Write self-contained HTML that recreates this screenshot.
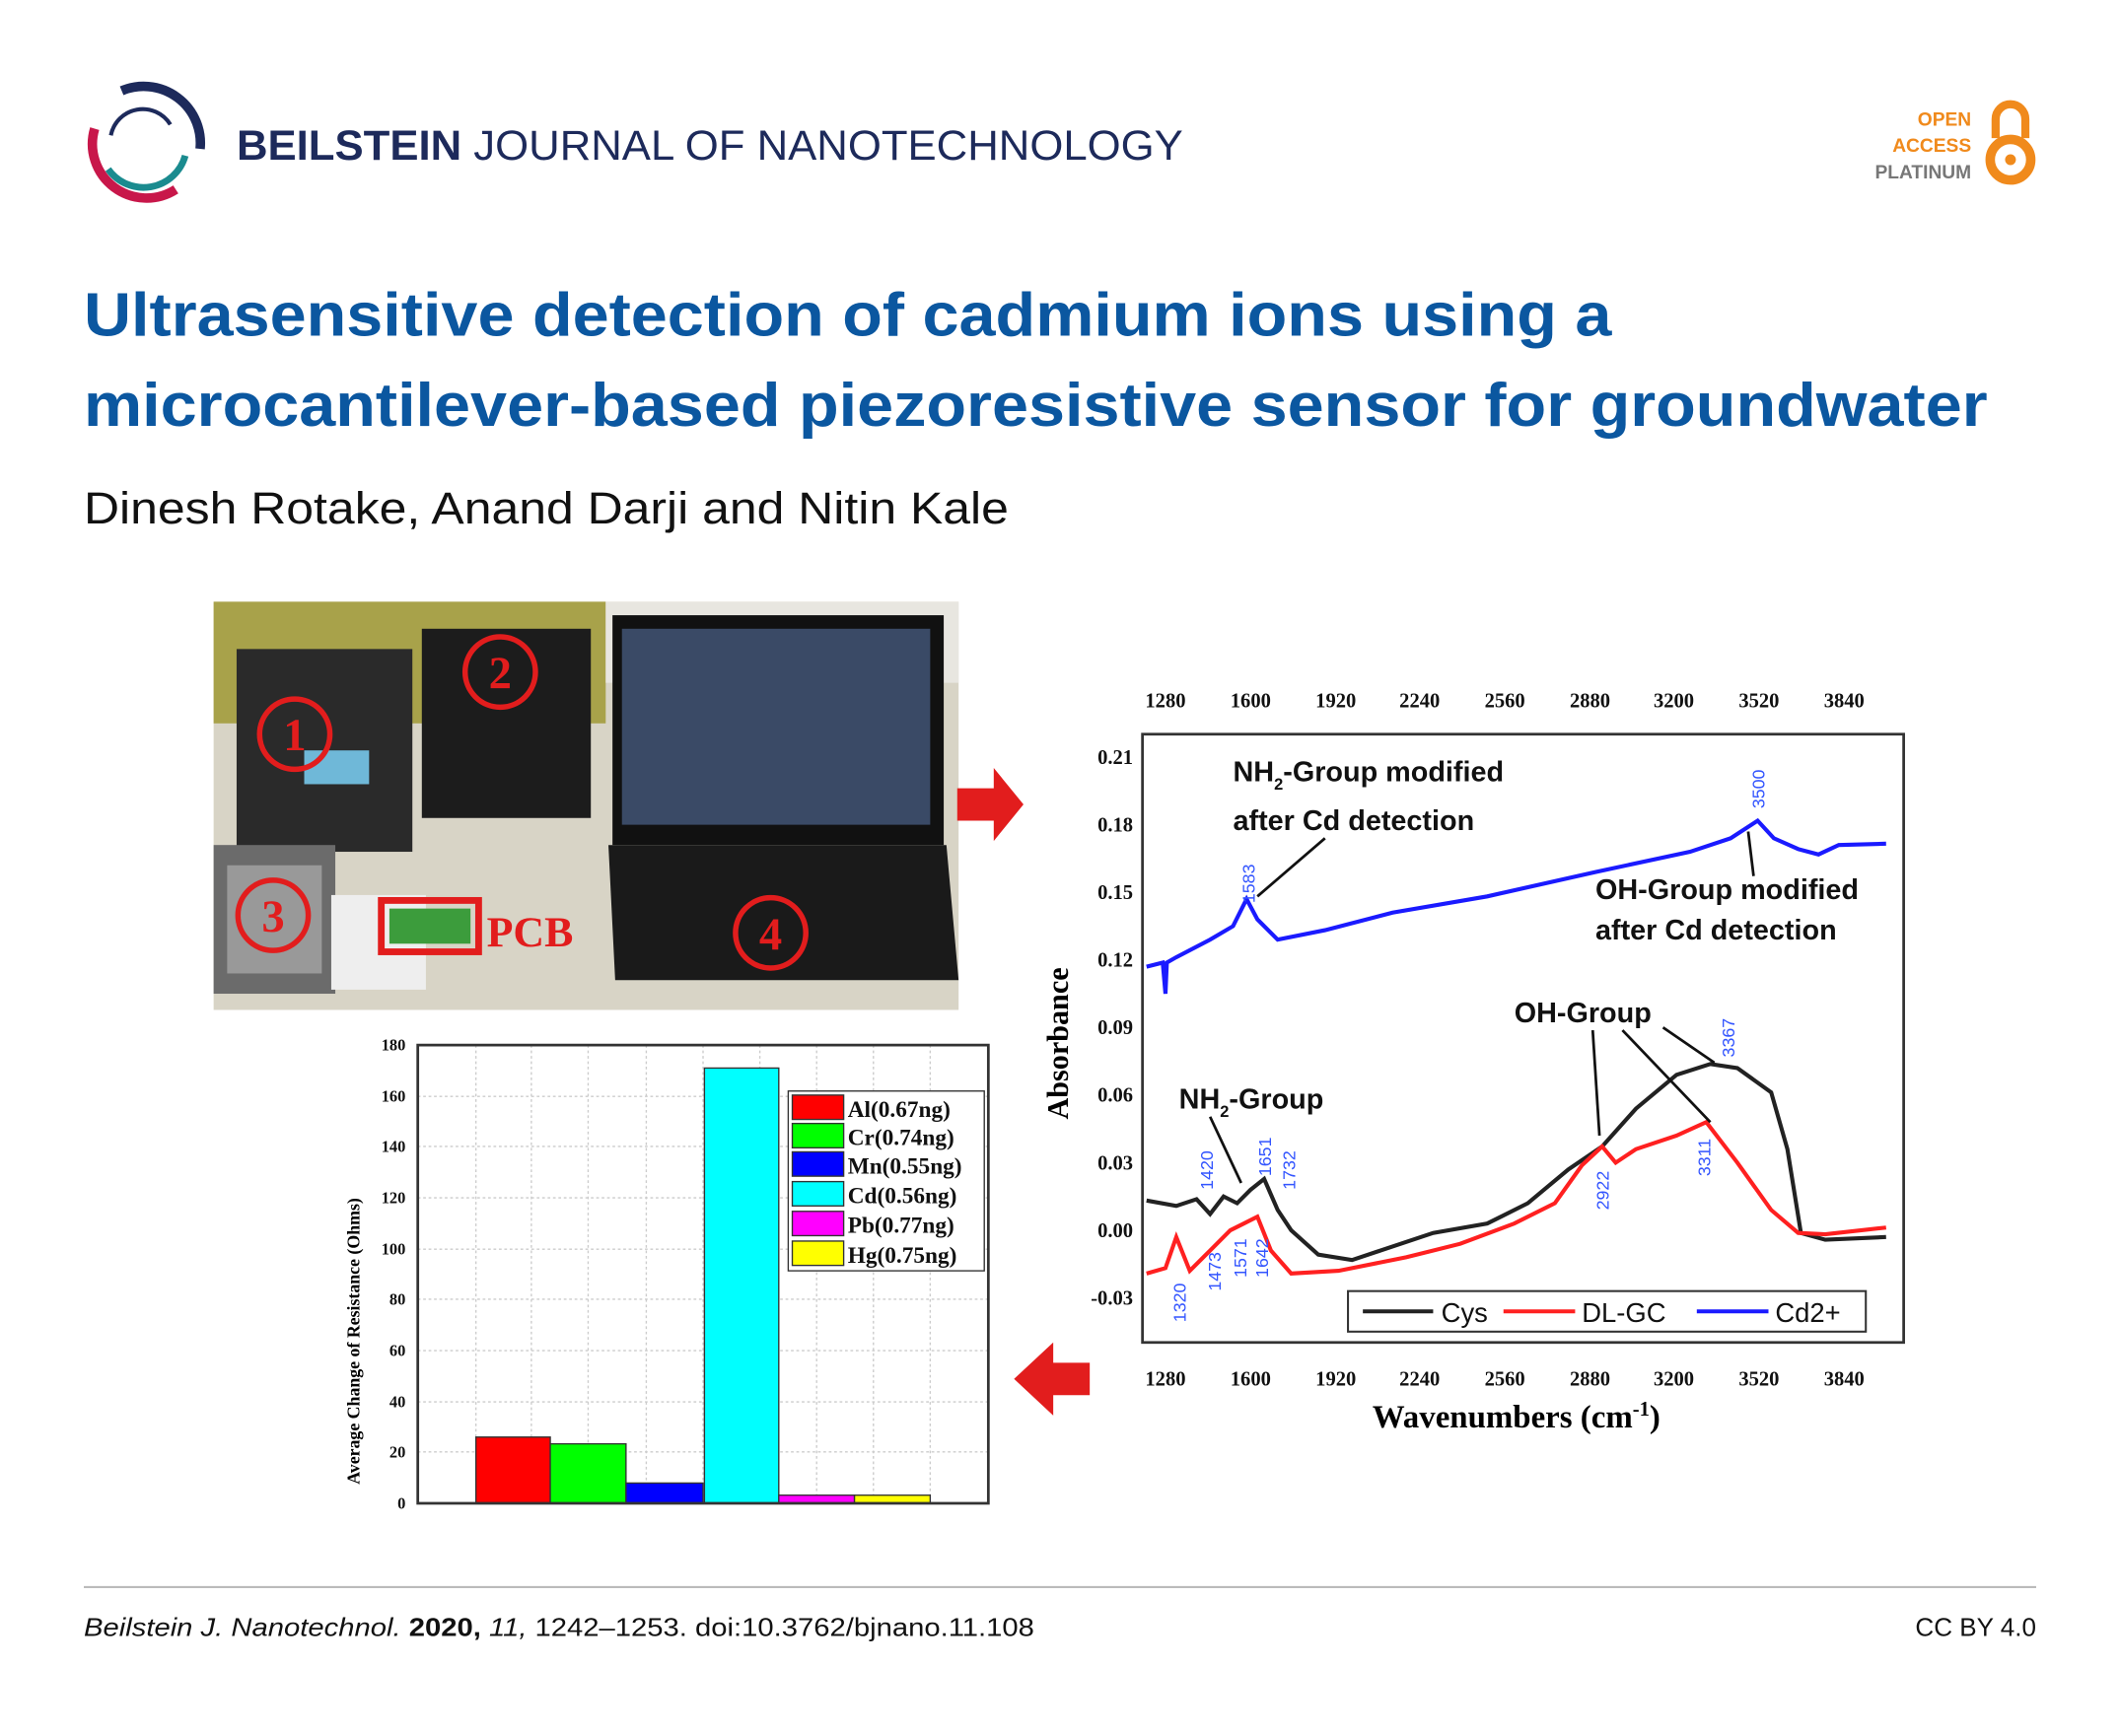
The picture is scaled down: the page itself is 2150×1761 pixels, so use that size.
<!DOCTYPE html>
<html><head><meta charset="utf-8"><style>
html,body{margin:0;padding:0;background:#fff;}
svg{display:block;}
text{font-family:"Liberation Sans",sans-serif;}
.ser,.ser text{font-family:"Liberation Serif",serif;}
</style></head><body>
<svg width="2150" height="1761" viewBox="0 0 1568 1284" xmlns="http://www.w3.org/2000/svg">
<rect width="1568" height="1284" fill="#fff"/>
<!-- logo -->
<path d="M70,95 A40,40 0 0,0 130,140" fill="none" stroke="#c8174a" stroke-width="7"/>
<path d="M90,67 A42,42 0 0,1 148,110" fill="none" stroke="#1d2a5b" stroke-width="7"/>
<path d="M80,125 A32,32 0 0,0 137,115" fill="none" stroke="#1a8b8f" stroke-width="5"/>
<path d="M82,100 A24,24 0 0,1 126,92" fill="none" stroke="#1d2a5b" stroke-width="3"/>
<text x="175" y="118" font-size="31" fill="#1d2a5b" textLength="700" lengthAdjust="spacingAndGlyphs"><tspan font-weight="bold">BEILSTEIN</tspan> JOURNAL OF NANOTECHNOLOGY</text>
<!-- open access -->
<text x="1458" y="93" font-size="14" font-weight="bold" fill="#f08a1c" text-anchor="end">OPEN</text>
<text x="1458" y="112" font-size="14" font-weight="bold" fill="#f08a1c" text-anchor="end">ACCESS</text>
<text x="1458" y="132" font-size="14" font-weight="bold" fill="#777" text-anchor="end">PLATINUM</text>
<path d="M1476,102 V88 A11,11 0 0,1 1498,88 V102" fill="none" stroke="#f08a1c" stroke-width="6"/>
<circle cx="1487" cy="118" r="15" fill="none" stroke="#f08a1c" stroke-width="7"/>
<circle cx="1487" cy="118" r="4" fill="#f08a1c"/>
<!-- title -->
<text x="62" y="248" font-size="45" font-weight="bold" fill="#0b57a0" textLength="1130" lengthAdjust="spacingAndGlyphs">Ultrasensitive detection of cadmium ions using a</text>
<text x="62" y="315" font-size="45" font-weight="bold" fill="#0b57a0" textLength="1408" lengthAdjust="spacingAndGlyphs">microcantilever-based piezoresistive sensor for groundwater</text>
<text x="62" y="387" font-size="33" fill="#111" textLength="684" lengthAdjust="spacingAndGlyphs">Dinesh Rotake, Anand Darji and Nitin Kale</text>
<!-- photo -->
<rect x="158" y="445" width="551" height="302" fill="#d8d4c6"/>
<rect x="158" y="445" width="290" height="90" fill="#a8a24a"/>
<rect x="448" y="445" width="261" height="60" fill="#e8e6e0"/>
<rect x="175" y="480" width="130" height="150" fill="#2a2a2a"/>
<rect x="225" y="555" width="48" height="25" fill="#6fb8d8"/>
<rect x="312" y="465" width="125" height="140" fill="#1c1c1c"/>
<rect x="453" y="455" width="245" height="170" fill="#111"/>
<rect x="460" y="465" width="228" height="145" fill="#3a4a66"/>
<polygon points="450,625 700,625 709,725 455,725" fill="#1a1a1a"/>
<rect x="158" y="625" width="90" height="110" fill="#6b6b6b"/>
<rect x="168" y="640" width="70" height="80" fill="#999"/>
<rect x="245" y="662" width="70" height="70" fill="#eee"/>
<rect x="282" y="666" width="72" height="38" fill="none" stroke="#e21d1d" stroke-width="5"/>
<rect x="288" y="672" width="60" height="26" fill="#3c9c3c"/>
<text x="360" y="700" font-size="32" font-weight="bold" fill="#e21d1d" class="ser">PCB</text>
<g fill="none" stroke="#e21d1d" stroke-width="4">
<circle cx="218" cy="543" r="26"/><circle cx="370" cy="497" r="26"/><circle cx="202" cy="677" r="26"/><circle cx="570" cy="690" r="26"/></g>
<g font-size="34" font-weight="bold" fill="#e21d1d" text-anchor="middle" class="ser">
<text x="218" y="555">1</text><text x="370" y="509">2</text><text x="202" y="689">3</text><text x="570" y="702">4</text></g>
<!-- arrows -->
<polygon points="708,583 735,583 735,568 757,595 735,622 735,607 708,607" fill="#e21d1d"/>
<polygon points="806,1008 779,1008 779,993 750,1020 779,1047 779,1032 806,1032" fill="#e21d1d"/>
<!-- right chart -->
<rect x="845" y="543" width="563" height="450" fill="none" stroke="#333" stroke-width="2"/>
<g font-size="15" font-weight="bold" class="ser" text-anchor="middle" fill="#111">
<text x="862" y="523">1280</text><text x="925" y="523">1600</text><text x="988" y="523">1920</text><text x="1050" y="523">2240</text><text x="1113" y="523">2560</text><text x="1176" y="523">2880</text><text x="1238" y="523">3200</text><text x="1301" y="523">3520</text><text x="1364" y="523">3840</text>
<text x="862" y="1025">1280</text><text x="925" y="1025">1600</text><text x="988" y="1025">1920</text><text x="1050" y="1025">2240</text><text x="1113" y="1025">2560</text><text x="1176" y="1025">2880</text><text x="1238" y="1025">3200</text><text x="1301" y="1025">3520</text><text x="1364" y="1025">3840</text>
</g>
<g font-size="15" font-weight="bold" class="ser" text-anchor="end" fill="#111">
<text x="838" y="565">0.21</text><text x="838" y="615">0.18</text><text x="838" y="665">0.15</text><text x="838" y="715">0.12</text><text x="838" y="765">0.09</text><text x="838" y="815">0.06</text><text x="838" y="865">0.03</text><text x="838" y="915">0.00</text><text x="838" y="965">-0.03</text>
</g>
<text class="ser" font-size="22" font-weight="bold" transform="translate(790,828) rotate(-90)">Absorbance</text>
<text class="ser" x="1015" y="1056" font-size="24" font-weight="bold">Wavenumbers (cm<tspan dy="-9" font-size="15">-1</tspan><tspan dy="9">)</tspan></text>
<polyline fill="none" stroke="#1a1aff" stroke-width="3" points="848,715 860,712 862,735 863,712 870,708 895,695 912,685 922,665 930,680 945,695 980,688 1030,675 1100,663 1180,645 1250,630 1280,620 1300,607 1312,620 1330,628 1345,632 1360,625 1395,624"/>
<polyline fill="none" stroke="#222" stroke-width="3" points="848,888 870,892 885,887 895,898 905,885 915,890 925,880 935,872 945,895 955,910 975,928 1000,932 1030,922 1060,912 1100,905 1130,890 1160,865 1185,848 1210,820 1240,795 1265,787 1285,790 1310,808 1322,850 1332,912 1350,917 1395,915"/>
<polyline fill="none" stroke="#ff2020" stroke-width="3" points="848,942 862,938 870,915 880,940 895,925 910,910 920,905 930,900 940,925 955,942 990,940 1040,930 1080,920 1120,905 1150,890 1170,862 1185,848 1195,860 1210,850 1240,840 1262,830 1285,860 1310,895 1330,912 1350,913 1395,908"/>
<g font-size="21" font-weight="bold" fill="#111">
<text x="912" y="578">NH<tspan dy="6" font-size="12">2</tspan><tspan dy="-6">-Group modified</tspan></text>
<text x="912" y="614">after Cd detection</text>
<text x="1180" y="665">OH-Group modified</text>
<text x="1180" y="695">after Cd detection</text>
<text x="1120" y="756">OH-Group</text>
<text x="872" y="820">NH<tspan dy="6" font-size="12">2</tspan><tspan dy="-6">-Group</tspan></text>
</g>
<g stroke="#111" stroke-width="2" fill="none">
<line x1="980" y1="620" x2="930" y2="663"/><line x1="1297" y1="648" x2="1293" y2="615"/>
<line x1="1178" y1="762" x2="1183" y2="840"/><line x1="1200" y1="762" x2="1265" y2="830"/><line x1="1230" y1="760" x2="1268" y2="786"/>
<line x1="895" y1="826" x2="918" y2="875"/>
</g>
<g font-size="13" fill="#3355ff">
<text transform="translate(928,668) rotate(-90)">1583</text>
<text transform="translate(1305,598) rotate(-90)">3500</text>
<text transform="translate(1283,782) rotate(-90)">3367</text>
<text transform="translate(1265,870) rotate(-90)">3311</text>
<text transform="translate(1190,895) rotate(-90)">2922</text>
<text transform="translate(897,880) rotate(-90)">1420</text>
<text transform="translate(940,870) rotate(-90)">1651</text>
<text transform="translate(958,880) rotate(-90)">1732</text>
<text transform="translate(877,978) rotate(-90)">1320</text>
<text transform="translate(903,955) rotate(-90)">1473</text>
<text transform="translate(922,945) rotate(-90)">1571</text>
<text transform="translate(938,945) rotate(-90)">1642</text>
</g>
<rect x="997" y="955" width="383" height="30" fill="#fff" stroke="#333" stroke-width="1.5"/>
<line x1="1008" y1="970" x2="1060" y2="970" stroke="#222" stroke-width="3"/>
<text x="1066" y="978" font-size="20" fill="#111">Cys</text>
<line x1="1112" y1="970" x2="1165" y2="970" stroke="#ff2020" stroke-width="3"/>
<text x="1170" y="978" font-size="20" fill="#111">DL-GC</text>
<line x1="1255" y1="970" x2="1308" y2="970" stroke="#1a1aff" stroke-width="3"/>
<text x="1313" y="978" font-size="20" fill="#111">Cd2+</text>
<!-- bar chart -->
<g stroke="#ccc" stroke-width="1" stroke-dasharray="2,2">
<line x1="309" y1="1074" x2="731" y2="1074"/><line x1="309" y1="1037" x2="731" y2="1037"/><line x1="309" y1="999" x2="731" y2="999"/><line x1="309" y1="961" x2="731" y2="961"/><line x1="309" y1="924" x2="731" y2="924"/><line x1="309" y1="886" x2="731" y2="886"/><line x1="309" y1="848" x2="731" y2="848"/><line x1="309" y1="811" x2="731" y2="811"/>
<line x1="352" y1="773" x2="352" y2="1112"/><line x1="393" y1="773" x2="393" y2="1112"/><line x1="435" y1="773" x2="435" y2="1112"/><line x1="478" y1="773" x2="478" y2="1112"/><line x1="520" y1="773" x2="520" y2="1112"/><line x1="562" y1="773" x2="562" y2="1112"/><line x1="604" y1="773" x2="604" y2="1112"/><line x1="646" y1="773" x2="646" y2="1112"/><line x1="688" y1="773" x2="688" y2="1112"/>
</g>
<g stroke="#333" stroke-width="1">
<rect x="352" y="1063" width="55" height="49" fill="#ff0000"/>
<rect x="407" y="1068" width="56" height="44" fill="#00ff00"/>
<rect x="463" y="1097" width="57" height="15" fill="#0000ff"/>
<rect x="521" y="790" width="55" height="322" fill="#00ffff"/>
<rect x="576" y="1106" width="56" height="6" fill="#ff00ff"/>
<rect x="632" y="1106" width="56" height="6" fill="#ffff00"/>
</g>
<rect x="309" y="773" width="422" height="339" fill="none" stroke="#333" stroke-width="2"/>
<g font-size="12" font-weight="bold" class="ser" text-anchor="end" fill="#111">
<text x="300" y="1116">0</text><text x="300" y="1078">20</text><text x="300" y="1041">40</text><text x="300" y="1003">60</text><text x="300" y="965">80</text><text x="300" y="928">100</text><text x="300" y="890">120</text><text x="300" y="852">140</text><text x="300" y="815">160</text><text x="300" y="777">180</text>
</g>
<text class="ser" font-size="13" font-weight="bold" transform="translate(266,1098) rotate(-90)">Average Change of Resistance (Ohms)</text>
<rect x="583" y="807" width="145" height="133" fill="#fff" stroke="#333" stroke-width="1"/>
<g stroke="#333" stroke-width="1">
<rect x="586" y="810" width="38" height="18" fill="#ff0000"/>
<rect x="586" y="831" width="38" height="18" fill="#00ff00"/>
<rect x="586" y="852" width="38" height="18" fill="#0000ff"/>
<rect x="586" y="874" width="38" height="18" fill="#00ffff"/>
<rect x="586" y="896" width="38" height="18" fill="#ff00ff"/>
<rect x="586" y="918" width="38" height="18" fill="#ffff00"/>
</g>
<g class="ser" font-size="17" font-weight="bold" fill="#111">
<text x="627" y="826">Al(0.67ng)</text><text x="627" y="847">Cr(0.74ng)</text><text x="627" y="868">Mn(0.55ng)</text><text x="627" y="890">Cd(0.56ng)</text><text x="627" y="912">Pb(0.77ng)</text><text x="627" y="934">Hg(0.75ng)</text>
</g>
<!-- footer -->
<line x1="62" y1="1174" x2="1506" y2="1174" stroke="#bbb" stroke-width="1.5"/>
<text x="62" y="1210" font-size="19" fill="#111" textLength="703" lengthAdjust="spacingAndGlyphs"><tspan font-style="italic">Beilstein J. Nanotechnol.</tspan> <tspan font-weight="bold">2020,</tspan> <tspan font-style="italic">11,</tspan> 1242–1253. doi:10.3762/bjnano.11.108</text>
<text x="1506" y="1210" font-size="19" fill="#111" text-anchor="end">CC BY 4.0</text>
</svg>
</body></html>
